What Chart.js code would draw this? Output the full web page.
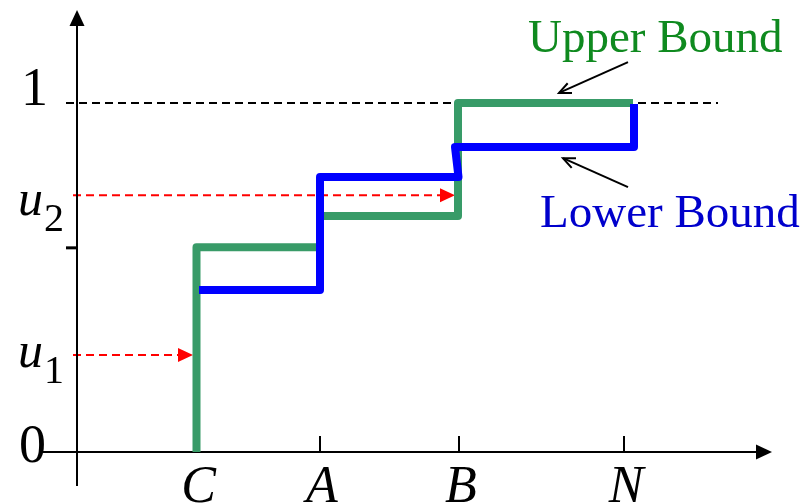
<!DOCTYPE html>
<html>
<head>
<meta charset="utf-8">
<script src="https://cdn.jsdelivr.net/npm/chart.js@4.4.1/dist/chart.umd.min.js"></script>
<style>
  html, body { margin: 0; padding: 0; background: #fff; }
  #wrap { width: 807px; height: 504px; position: relative; }
</style>
</head>
<body>
<div id="wrap"><canvas id="chart"></canvas></div>
<script>
// horizontal axis: step positions (abstract units, y-axis sits at 0)
const xTickLabels = ['C', 'A', 'B', 'N'];
const xTickValues = [1.195, 2.43, 3.82, 5.47];

// vertical axis: probability levels
const yTickLabels = ['0', 'u1', 'u2', '1'];
const yTickValues = [0, 0.278, 0.736, 1];
const yMarkValues = [0.585];

// upper bound staircase
const upperX = [1.195, 1.195, 2.43, 2.43, 3.81, 3.81, 5.56];
const upperY = [0, 0.587, 0.587, 0.676, 0.676, 1, 1];

// lower bound staircase
const lowerX = [1.22, 2.43, 2.43, 3.815, 3.78, 5.57, 5.57];
const lowerY = [0.464, 0.464, 0.788, 0.788, 0.874, 0.874, 0.997];

// inverse lookups: u1 hits the curve at C, u2 at B
const lookupY = [0.278, 0.736];
const lookupTipX = [1.16, 3.78];

const seriesNames = ['Upper Bound', 'Lower Bound'];

const xRange = [-0.37, 6.95];
const yRange = [-0.0974, 1.2665];

const SERIF = '"Liberation Serif", "Times New Roman", serif';
const GREEN = '#389b68';
const BLUE = '#0000ff';

const toPoints = (xs, ys) => xs.map((x, i) => ({ x: x, y: ys[i] }));

function openHead(ctx, fromX, fromY, tipX, tipY, len, spread) {
    const a = Math.atan2(tipY - fromY, tipX - fromX);
    ctx.beginPath();
    ctx.moveTo(tipX - len * Math.cos(a - spread), tipY - len * Math.sin(a - spread));
    ctx.lineTo(tipX, tipY);
    ctx.lineTo(tipX - len * Math.cos(a + spread), tipY - len * Math.sin(a + spread));
    ctx.stroke();
}

function solidHead(ctx, tipX, tipY, dirX, dirY, len, half) {
    // dir is a unit vector pointing to the tip
    ctx.beginPath();
    ctx.moveTo(tipX, tipY);
    ctx.lineTo(tipX - dirX * len - dirY * half, tipY - dirY * len + dirX * half);
    ctx.lineTo(tipX - dirX * len + dirY * half, tipY - dirY * len - dirX * half);
    ctx.closePath();
    ctx.fill();
}

const schematic = {
    id: 'schematic',
    beforeDatasetsDraw(chart) {
        const ctx = chart.ctx;
        const sx = chart.scales.x, sy = chart.scales.y;
        const x0 = sx.getPixelForValue(0), y0 = sy.getPixelForValue(0);
        ctx.save();

        // dashed reference level at 1
        const yOne = sy.getPixelForValue(1);
        ctx.strokeStyle = '#000';
        ctx.lineWidth = 2;
        ctx.setLineDash([8, 5]);
        ctx.beginPath();
        ctx.moveTo(sx.getPixelForValue(-0.11), yOne);
        ctx.lineTo(sx.getPixelForValue(6.41), yOne);
        ctx.stroke();

        // red lookup arrows
        ctx.strokeStyle = '#ff0000';
        ctx.fillStyle = '#ff0000';
        lookupY.forEach((v, i) => {
            const py = sy.getPixelForValue(v);
            const tip = sx.getPixelForValue(lookupTipX[i]);
            ctx.setLineDash([8, 5]);
            ctx.beginPath();
            ctx.moveTo(x0 - 4, py);
            ctx.lineTo(tip - 14, py);
            ctx.stroke();
            ctx.setLineDash([]);
            solidHead(ctx, tip, py, 1, 0, 15, 7);
        });

        // axes with arrow heads
        ctx.setLineDash([]);
        ctx.strokeStyle = '#000';
        ctx.fillStyle = '#000';
        ctx.lineWidth = 2;
        ctx.beginPath();
        ctx.moveTo(sx.left, y0);
        ctx.lineTo(sx.right - 12, y0);
        ctx.moveTo(x0, sy.bottom);
        ctx.lineTo(x0, sy.top + 12);
        ctx.stroke();
        solidHead(ctx, sx.right, y0, 1, 0, 16, 7.5);
        solidHead(ctx, x0, sy.top, 0, -1, 16, 7.5);

        // ticks
        xTickValues.forEach(v => {
            const px = sx.getPixelForValue(v);
            ctx.beginPath();
            ctx.moveTo(px, y0);
            ctx.lineTo(px, y0 - 16);
            ctx.stroke();
        });
        ctx.lineWidth = 3;
        yMarkValues.forEach(v => {
            const py = sy.getPixelForValue(v);
            ctx.beginPath();
            ctx.moveTo(x0 - 11, py);
            ctx.lineTo(x0, py);
            ctx.stroke();
        });
        ctx.restore();
    },
    afterDatasetsDraw(chart) {
        const ctx = chart.ctx;
        const sx = chart.scales.x, sy = chart.scales.y;
        const y0 = sy.getPixelForValue(0);
        ctx.save();
        ctx.fillStyle = '#000';
        ctx.textBaseline = 'alphabetic';

        // x tick labels
        ctx.font = 'italic 52px ' + SERIF;
        ctx.textAlign = 'center';
        xTickLabels.forEach((t, i) => {
            ctx.fillText(t, sx.getPixelForValue(xTickValues[i]) + 2, y0 + 50);
        });

        // y tick labels (u_i drawn with a subscript)
        const dy = [10, 12, 20, 2];
        yTickLabels.forEach((t, i) => {
            const py = sy.getPixelForValue(yTickValues[i]) + dy[i];
            if (t[0] === 'u') {
                ctx.textAlign = 'left';
                ctx.font = 'italic 50px ' + SERIF;
                const ux = 18;
                ctx.fillText('u', ux, py);
                const w = ctx.measureText('u').width;
                ctx.font = '40px ' + SERIF;
                ctx.fillText(t.slice(1), ux + w + 1, py + 16);
            } else {
                ctx.textAlign = 'right';
                ctx.font = '54px ' + SERIF;
                ctx.fillText(t, t === '0' ? 46 : 48, py);
            }
        });

        // series names with pointers
        ctx.textAlign = 'left';
        ctx.font = '47px ' + SERIF;
        ctx.fillStyle = '#0f8a1f';
        ctx.fillText(seriesNames[0], sx.getPixelForValue(4.51), sy.getPixelForValue(1.146));
        ctx.fillStyle = '#0000cc';
        ctx.fillText(seriesNames[1], sx.getPixelForValue(4.63), sy.getPixelForValue(0.645));

        ctx.strokeStyle = '#000';
        ctx.lineWidth = 2;
        const pointers = [[5.51, 1.117, 4.82, 1.029], [5.51, 0.759, 4.86, 0.842]];
        pointers.forEach(p => {
            const ax = sx.getPixelForValue(p[0]), ay = sy.getPixelForValue(p[1]);
            const bx = sx.getPixelForValue(p[2]), by = sy.getPixelForValue(p[3]);
            ctx.beginPath();
            ctx.moveTo(ax, ay);
            ctx.lineTo(bx, by);
            ctx.stroke();
            openHead(ctx, ax, ay, bx, by, 13, 0.42);
        });
        ctx.restore();
    }
};

new Chart(document.getElementById('chart'), {
    type: 'scatter',
    data: {
        datasets: [
            {
                label: seriesNames[0],
                data: toPoints(upperX, upperY),
                showLine: true,
                borderColor: GREEN,
                borderWidth: 8,
                borderJoinStyle: 'round',
                borderCapStyle: 'butt',
                pointRadius: 0,
                order: 2
            },
            {
                label: seriesNames[1],
                data: toPoints(lowerX, lowerY),
                showLine: true,
                borderColor: BLUE,
                borderWidth: 8,
                borderJoinStyle: 'round',
                borderCapStyle: 'butt',
                pointRadius: 0,
                order: 1
            }
        ]
    },
    options: {
        responsive: true,
        maintainAspectRatio: false,
        animation: false,
        events: [],
        layout: { padding: { left: 40, right: 35, top: 10, bottom: 18 } },
        plugins: { legend: { display: false }, tooltip: { enabled: false } },
        scales: {
            x: { type: 'linear', min: xRange[0], max: xRange[1], display: false },
            y: { type: 'linear', min: yRange[0], max: yRange[1], display: false }
        }
    },
    plugins: [schematic]
});
</script>
</body>
</html>
